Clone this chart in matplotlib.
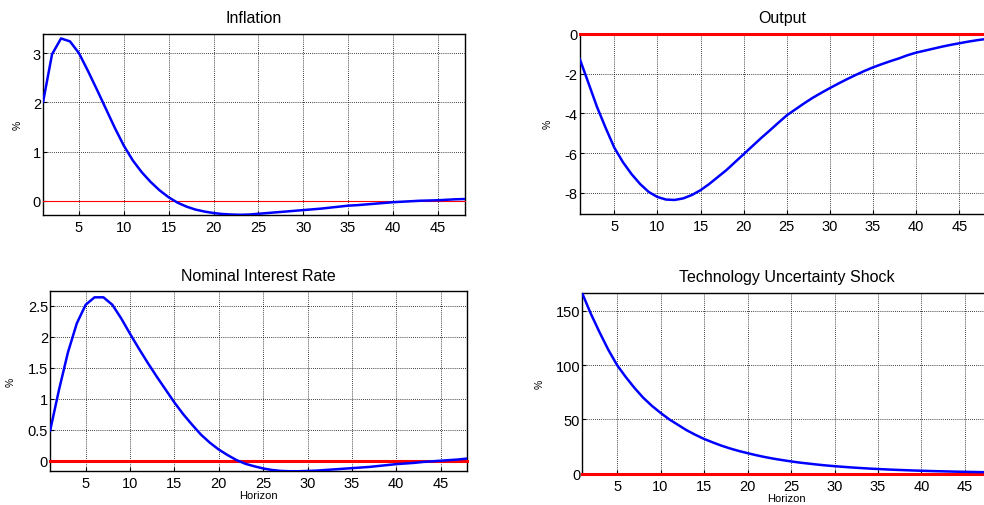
import numpy as np
import matplotlib
matplotlib.use("Agg")
import matplotlib.pyplot as plt

plt.rcParams['font.family'] = ['Liberation Sans', 'DejaVu Sans']

# horizon 1..48
horizon = np.arange(1, 49)

# impulse responses
inflation = [2.01, 2.98, 3.30, 3.24, 3.00, 2.64, 2.26, 1.87, 1.48, 1.12,
             0.82, 0.58, 0.38, 0.21, 0.07, -0.04, -0.12, -0.18, -0.22, -0.25,
             -0.27, -0.28, -0.285, -0.28, -0.265, -0.25, -0.235, -0.22, -0.205, -0.19,
             -0.175, -0.16, -0.14, -0.12, -0.10, -0.09, -0.075, -0.06, -0.045, -0.03,
             -0.02, -0.01, 0.0, 0.005, 0.01, 0.02, 0.03, 0.035]

output = [-1.27, -2.47, -3.68, -4.73, -5.72, -6.45, -7.05, -7.55, -7.95, -8.2,
          -8.33, -8.35, -8.27, -8.1, -7.86, -7.55, -7.2, -6.85, -6.45, -6.05,
          -5.65, -5.25, -4.87, -4.48, -4.1, -3.8, -3.5, -3.22, -2.97, -2.73,
          -2.5, -2.28, -2.07, -1.87, -1.69, -1.53, -1.38, -1.24, -1.08, -0.95,
          -0.85, -0.75, -0.65, -0.56, -0.48, -0.4, -0.33, -0.27]

interest = [0.49, 1.15, 1.75, 2.22, 2.52, 2.64, 2.64, 2.52, 2.30, 2.05,
            1.81, 1.58, 1.36, 1.15, 0.94, 0.75, 0.58, 0.42, 0.29, 0.18,
            0.09, 0.01, -0.05, -0.09, -0.125, -0.15, -0.165, -0.17, -0.17, -0.165,
            -0.16, -0.15, -0.14, -0.13, -0.12, -0.11, -0.10, -0.085, -0.07, -0.055,
            -0.045, -0.035, -0.02, -0.01, 0.0, 0.01, 0.02, 0.035]

uncertainty = [166, 147, 130, 114, 100, 89, 79, 70, 62.5, 56,
               50, 45, 40, 35.8, 32, 28.8, 25.8, 23.2, 20.9, 18.9,
               17, 15.3, 13.8, 12.5, 11.3, 10.2, 9.3, 8.4, 7.6, 6.9,
               6.3, 5.7, 5.2, 4.7, 4.3, 3.9, 3.55, 3.25, 2.95, 2.7,
               2.45, 2.25, 2.05, 1.85, 1.7, 1.55, 1.4, 1.3]

titles = ['Inflation', 'Output', 'Nominal Interest Rate', 'Technology Uncertainty Shock']
series = [inflation, output, interest, uncertainty]
yticks = [[0, 1, 2, 3], [-8, -6, -4, -2, 0], [0, 0.5, 1, 1.5, 2, 2.5], [0, 50, 100, 150]]
ytick_labels = [['0', '1', '2', '3'], ['-8', '-6', '-4', '-2', '0'],
                ['0', '0.5', '1', '1.5', '2', '2.5'], ['0', '50', '100', '150']]
ylims = [(-0.29, 3.39), (-9.04, 0), (-0.171, 2.737), (0, 166.6)]
xticks = [5, 10, 15, 20, 25, 30, 35, 40, 45]

# axes boxes in figure fraction
boxes = [[0.0438, 0.5731, 0.4284, 0.3577],
         [0.5892, 0.5757, 0.4120, 0.3557],
         [0.0510, 0.0666, 0.4239, 0.3557],
         [0.5917, 0.0619, 0.4155, 0.3577]]
ylabel_x = [-0.048, -0.066, -0.082, -0.091]
zero_lw = [0.8, 2.2, 2.2, 2.2]

fig = plt.figure(figsize=(9.84, 5.06), dpi=100)

for i in range(4):
    ax = fig.add_axes(boxes[i])
    ax.axhline(0, color='red', lw=zero_lw[i], zorder=3, clip_on=False)
    ax.plot(horizon, series[i], color='blue', lw=1.8, zorder=4)
    ax.set_xlim(1, 48)
    ax.set_ylim(*ylims[i])
    ax.set_xticks(xticks)
    ax.set_yticks(yticks[i])
    ax.set_yticklabels(ytick_labels[i])
    ax.grid(True, color='black', linestyle=(0, (1, 1.5)), linewidth=0.6)
    ax.tick_params(direction='in', length=3, labelsize=10.5, color='black')
    ax.tick_params(axis='y', pad=1.5)
    ax.tick_params(axis='x', pad=3.5)
    for s in ax.spines.values():
        s.set_linewidth(1.0)
    ax.set_title(titles[i], fontsize=11.5, pad=8.5)
    ax.set_ylabel('%', fontsize=7.5)
    ax.yaxis.set_label_coords(ylabel_x[i], 0.5)
    if i >= 2:
        ax.set_xlabel('Horizon', fontsize=8, labelpad=0)

fig.savefig('out.png', dpi=100)
